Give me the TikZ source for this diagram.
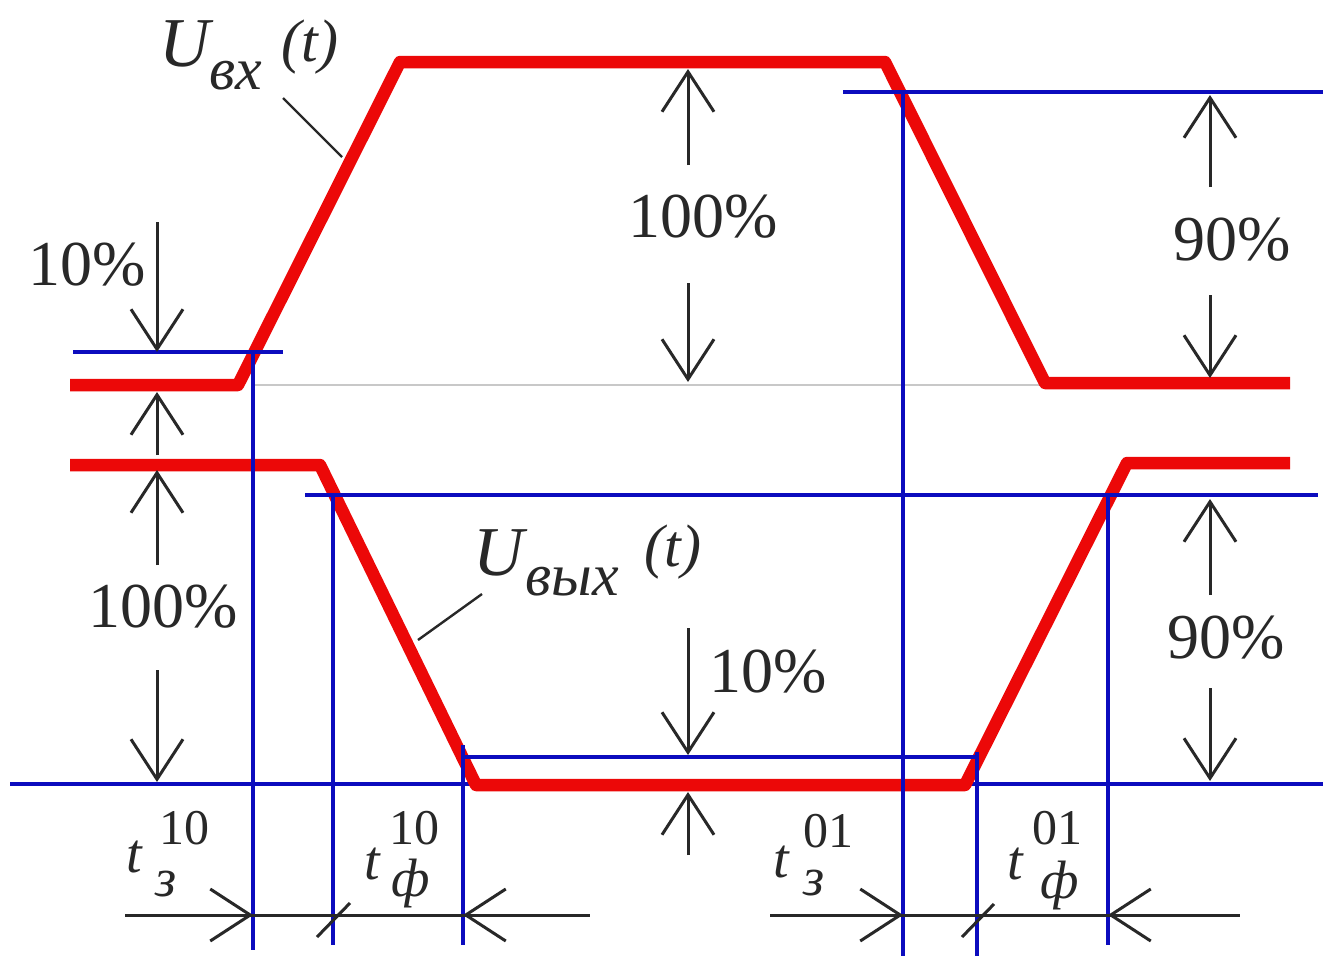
\documentclass[tikz,border=0pt]{standalone}
\usepackage{fontspec}
\setmainfont{Liberation Serif}
\usetikzlibrary{arrows.meta}
\definecolor{sigred}{RGB}{236,8,8}
\definecolor{refblue}{RGB}{12,12,190}
\definecolor{dimgray}{RGB}{40,40,40}
\definecolor{basegray}{RGB}{200,200,200}
\begin{document}
\begin{tikzpicture}[x=1pt,y=-1pt,
  sig/.style={sigred,line width=12.5pt,line join=round},
  guide/.style={refblue,line width=3.4pt},
  dimarrow/.style={dimgray,line width=3pt,-{Straight Barb[length=40pt,width=52pt]}},
  dimline/.style={dimgray,line width=3pt},
  lead/.style={dimgray,line width=2.4pt},
  lbl/.style={inner sep=0pt,text=dimgray,font=\fontsize{64}{70}\selectfont},
  bigU/.style={inner sep=0pt,text=dimgray,font=\fontsize{70}{74}\selectfont\itshape},
  subtxt/.style={inner sep=0pt,text=dimgray,font=\fontsize{60}{64}\selectfont\itshape},
  partxt/.style={inner sep=0pt,text=dimgray,font=\fontsize{60}{64}\selectfont\itshape},
  tlbl/.style={inner sep=0pt,text=dimgray,font=\fontsize{56}{60}\selectfont\itshape},
  idx/.style={inner sep=0pt,text=dimgray,font=\fontsize{50}{54}\selectfont},
  idxi/.style={inner sep=0pt,text=dimgray,font=\fontsize{54}{58}\selectfont\itshape}]
\useasboundingbox (0,0) rectangle (1323,956);
\fill[white] (0,0) rectangle (1323,956);

% thin gray reference level
\draw[basegray,line width=2pt] (255,385) -- (1045,385);
% blue baseline (under the red signal)
\draw[guide] (10,784) -- (1323,784);

% input signal
\draw[sig] (70,385) -- (238,385) -- (400,62) -- (885,62) -- (1045,383) -- (1290,383);
% output signal
\draw[sig] (70,465) -- (320,465) -- (476,785) -- (965,785) -- (1127,463) -- (1290,463);

% blue level lines
\draw[guide] (73,352) -- (283,352);
\draw[guide] (843,92) -- (1323,92);
\draw[guide] (305,495) -- (1318,495);
\draw[guide] (463,757) -- (977,757);
% blue verticals
\draw[guide] (253,352) -- (253,950);
\draw[guide] (333,495) -- (333,945);
\draw[guide] (463,745) -- (463,945);
\draw[guide] (903,92) -- (903,956);
\draw[guide] (977,752) -- (977,956);
\draw[guide] (1108,495) -- (1108,945);

% percentage labels
\node[lbl] (pa10) at (87,265) {10\%};
\node[lbl] (pa100) at (703,217) {100\%};
\node[lbl] (pa90) at (1232,240) {90\%};
\node[lbl] (pb100) at (163,607) {100\%};
\node[lbl] (pb10) at (768,672) {10\%};
\node[lbl] (pb90) at (1226,638) {90\%};

% dimension arrows
\draw[dimarrow] (157,222) -- (157,352);
\draw[dimarrow] (157,455) -- (157,392);
\draw[dimarrow] (688,165) -- (688,69);
\draw[dimarrow] (688,283) -- (688,382);
\draw[dimarrow] (1210,187) -- (1210,95);
\draw[dimarrow] (1210,295) -- (1210,378);
\draw[dimarrow] (157,565) -- (157,470);
\draw[dimarrow] (157,670) -- (157,782);
\draw[dimarrow] (688,628) -- (688,755);
\draw[dimarrow] (688,855) -- (688,792);
\draw[dimarrow] (1210,595) -- (1210,499);
\draw[dimarrow] (1210,688) -- (1210,781);

% time dimension lines
\draw[dimline] (125,915) -- (590,915);
\draw[dimline] (770,915) -- (1240,915);
\draw[dimarrow] (200,915) -- (253,915);
\draw[dimarrow] (520,915) -- (463,915);
\draw[dimarrow] (850,915) -- (903,915);
\draw[dimarrow] (1165,915) -- (1108,915);
\draw[dimline] (317,937) -- (350,903);
\draw[dimline] (962,937) -- (994,904);

% signal labels
\node[bigU] (uin) at (185,44) {U};
\node[subtxt] (uinsub) at (236,76) {вх};
\node[partxt] (uint) at (310,47) {(t)};
\coordinate (uinA) at (283,98);
\coordinate (uinB) at (342,157);
\draw[lead] (uinA) -- (uinB);

\node[bigU] (uout) at (499,553) {U};
\node[subtxt] (uoutsub) at (572,582) {вых};
\node[partxt] (uoutt) at (673,552) {(t)};
\coordinate (uoutA) at (482,594);
\coordinate (uoutB) at (418,640);
\draw[lead] (uoutA) -- (uoutB);

% time labels
\node[tlbl] (t1) at (134,857) {t};
\node[idx] (t1up) at (184,828) {10};
\node[idxi] (t1dn) at (166,884) {з};
\node[tlbl] (t2) at (372,864) {t};
\node[idx] (t2up) at (414,828) {10};
\node[idxi] (t2dn) at (411,884) {ф};
\node[tlbl] (t3) at (781,862) {t};
\node[idx] (t3up) at (828,831) {01};
\node[idxi] (t3dn) at (814,883) {з};
\node[tlbl] (t4) at (1015,864) {t};
\node[idx] (t4up) at (1057,828) {01};
\node[idxi] (t4dn) at (1060,886) {ф};
\end{tikzpicture}
\end{document}
